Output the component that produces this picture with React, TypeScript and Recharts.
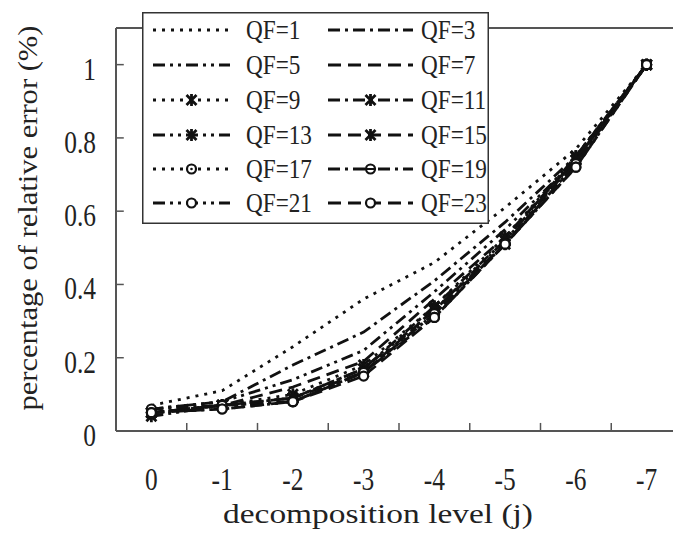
import { Label, Legend, Line, LineChart, ReferenceLine, XAxis, YAxis } from 'recharts';

const levels = ['0', '-1', '-2', '-3', '-4', '-5', '-6', '-7'];
const yTicks = [0, 0.2, 0.4, 0.6, 0.8, 1];

const qfNames = ['QF=1', 'QF=3', 'QF=5', 'QF=7', 'QF=9', 'QF=11', 'QF=13', 'QF=15', 'QF=17', 'QF=19', 'QF=21', 'QF=23'];

const qf1 = [0.07, 0.11, 0.23, 0.36, 0.46, 0.61, 0.77, 1.0];
const qf3 = [0.06, 0.08, 0.18, 0.27, 0.41, 0.57, 0.75, 1.0];
const qf5 = [0.06, 0.08, 0.14, 0.22, 0.38, 0.55, 0.74, 1.0];
const qf7 = [0.05, 0.07, 0.12, 0.19, 0.36, 0.53, 0.74, 1.0];
const qf9 = [0.05, 0.07, 0.1, 0.18, 0.34, 0.53, 0.75, 1.0];
const qf11 = [0.05, 0.07, 0.09, 0.17, 0.34, 0.52, 0.75, 1.0];
const qf13 = [0.04, 0.07, 0.09, 0.17, 0.33, 0.52, 0.74, 1.0];
const qf15 = [0.05, 0.07, 0.09, 0.16, 0.33, 0.51, 0.74, 1.0];
const qf17 = [0.05, 0.07, 0.08, 0.16, 0.32, 0.51, 0.73, 1.0];
const qf19 = [0.06, 0.07, 0.08, 0.16, 0.32, 0.51, 0.73, 1.0];
const qf21 = [0.05, 0.06, 0.08, 0.16, 0.31, 0.51, 0.72, 1.0];
const qf23 = [0.05, 0.06, 0.08, 0.15, 0.31, 0.51, 0.72, 1.0];

const qfValues = [qf1, qf3, qf5, qf7, qf9, qf11, qf13, qf15, qf17, qf19, qf21, qf23];

const data = levels.map((level, i) => {
  const row: Record<string, number | string> = { idx: i, level };
  qfNames.forEach((name, s) => {
    row[name] = qfValues[s][i];
  });
  return row;
});

// boundaries between categories, where the tick marks sit
const boundaries = levels.slice(1).map((_, i) => i + 0.5);

const FONT = "'Times New Roman', 'Liberation Serif', Times, serif";
const INK = '#111';
const AXIS = '#555';

const DASHES = ['3 6', '12 5 3 5', '12 5 3 5 3 5', '13 7'];
type MarkerKind = 'none' | 'star' | 'circleDot' | 'circleBar' | 'circle';
const markerOf = (s: number): MarkerKind => {
  if (s < 4) return 'none';
  if (s < 8) return 'star';
  if (s === 8) return 'circleDot';
  if (s === 9) return 'circleBar';
  return 'circle';
};

function Marker({ cx, cy, kind }: { cx: number; cy: number; kind: MarkerKind }) {
  if (kind === 'none') return null;
  if (kind === 'star') {
    return (
      <path
        d={`M${cx - 5},${cy - 5}L${cx + 5},${cy + 5}M${cx + 5},${cy - 5}L${cx - 5},${cy + 5}M${cx},${cy - 6}L${cx},${cy + 6}`}
        stroke={INK}
        strokeWidth={2.8}
        fill="none"
      />
    );
  }
  return (
    <g>
      <circle cx={cx} cy={cy} r={4.5} fill="#fff" stroke={INK} strokeWidth={2.2} />
      {kind === 'circleDot' && <circle cx={cx} cy={cy} r={1.3} fill={INK} />}
      {kind === 'circleBar' && <line x1={cx - 4} x2={cx + 4} y1={cy} y2={cy} stroke={INK} strokeWidth={2} />}
    </g>
  );
}

function YTick({ x, y, payload }: any) {
  return (
    <text
      transform={`translate(${x},${y}) scale(0.82,1)`}
      textAnchor="end"
      dy={15}
      fontSize={31}
      fontFamily={FONT}
      fill="#222"
    >
      {payload.value}
    </text>
  );
}

function XTick({ x, y, payload }: any) {
  return (
    <text
      transform={`translate(${x},${y}) scale(0.82,1)`}
      textAnchor="middle"
      dy={59}
      fontSize={31}
      fontFamily={FONT}
      fill="#222"
    >
      {levels[payload.value]}
    </text>
  );
}

function LegendBox() {
  const rowY = [18, 53, 88, 123, 157, 191];
  const cols = [
    { x1: 11, x2: 88, tx: 104 },
    { x1: 186, x2: 271, tx: 279 },
  ];
  return (
    <svg width={347} height={212} style={{ display: 'block' }}>
      <rect x={0.75} y={0.75} width={345.5} height={210.5} fill="#fff" stroke="#333" strokeWidth={1.5} />
      {qfNames.map((name, s) => {
        const col = cols[s % 2];
        const y = rowY[Math.floor(s / 2)];
        const mid = (col.x1 + col.x2) / 2;
        return (
          <g key={name}>
            <line x1={col.x1} x2={col.x2} y1={y} y2={y} stroke={INK} strokeWidth={2.8} strokeDasharray={DASHES[s % 4]} />
            <Marker cx={mid} cy={y} kind={markerOf(s)} />
            <text
              transform={`translate(${col.tx},${y}) scale(0.86,1)`}
              dy={9}
              fontSize={27}
              fontFamily={FONT}
              fill="#222"
            >
              {name}
            </text>
          </g>
        );
      })}
    </svg>
  );
}

export default function App() {
  return (
    <div style={{ position: 'absolute', left: 0, top: 0, width: 673, height: 533, overflow: 'hidden', background: '#fff' }}>
      <div style={{ position: 'relative' }}>
        <LineChart width={700} height={533} data={data} margin={{ top: 28, right: 18, bottom: 42, left: 30 }}>
          <XAxis
            dataKey="idx"
            type="number"
            domain={[-0.5, 7.5]}
            ticks={levels.map((_, i) => i)}
            interval={0}
            height={60}
            tickSize={0}
            tickMargin={0}
            tickLine={false}
            axisLine={{ stroke: AXIS, strokeWidth: 2 }}
            tick={<XTick />}
          >
            <Label
              content={() => (
                <text x={378} y={523} textAnchor="middle" fontSize={28} fontFamily={FONT} fill="#222" textLength={310} lengthAdjust="spacingAndGlyphs">
                  decomposition level (j)
                </text>
              )}
            />
          </XAxis>
          <YAxis
            type="number"
            domain={[0, 1.1]}
            ticks={yTicks}
            width={86}
            tickSize={0}
            tickMargin={20}
            tickLine={false}
            axisLine={{ stroke: AXIS, strokeWidth: 2 }}
            tick={<YTick />}
          >
            <Label
              content={() => (
                <text
                  x={37}
                  y={218}
                  transform="rotate(-90, 37, 218)"
                  textAnchor="middle"
                  fontSize={28}
                  fontFamily={FONT}
                  fill="#222"
                  textLength={385}
                  lengthAdjust="spacingAndGlyphs"
                >
                  percentage of relative error (%)
                </text>
              )}
            />
          </YAxis>
          <ReferenceLine y={1.1} stroke={AXIS} strokeWidth={2} />
          {boundaries.map((b) => (
            <ReferenceLine key={`xt${b}`} segment={[{ x: b, y: 0 }, { x: b, y: 0.022 }]} stroke={AXIS} strokeWidth={1.5} />
          ))}
          {yTicks.slice(1).map((t) => (
            <ReferenceLine key={`yt${t}`} segment={[{ x: -0.5, y: t }, { x: -0.39, y: t }]} stroke={AXIS} strokeWidth={1.5} />
          ))}
          {qfNames.map((name, s) => (
            <Line
              key={name}
              dataKey={name}
              name={name}
              stroke={INK}
              strokeWidth={2.8}
              strokeDasharray={DASHES[s % 4]}
              isAnimationActive={false}
              activeDot={false}
              dot={(p: any) => <Marker key={`${name}-${p.index}`} cx={p.cx} cy={p.cy} kind={markerOf(s)} />}
            />
          ))}
          <Legend
            layout="horizontal"
            align="center"
            verticalAlign="middle"
            content={<LegendBox />}
            wrapperStyle={{ position: 'absolute', left: 142, top: 12, width: 347, height: 212 }}
          />
        </LineChart>
      </div>
    </div>
  );
}
